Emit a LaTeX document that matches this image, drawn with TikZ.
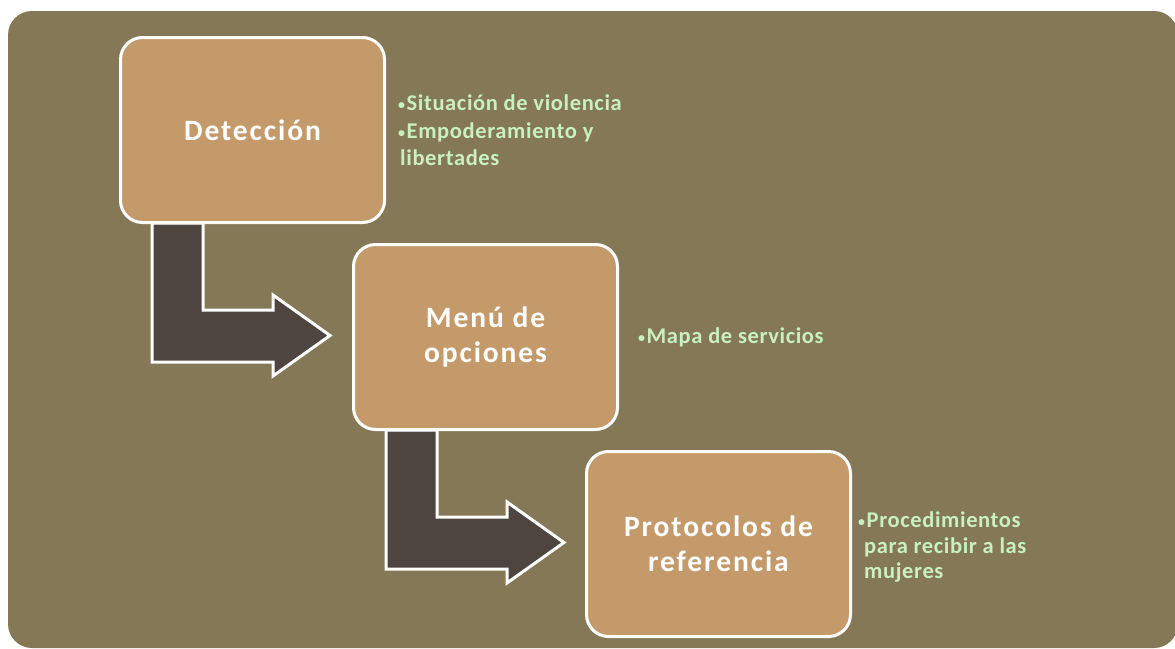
\documentclass[tikz,border=0pt]{standalone}
\usepackage{fontspec}
\setmainfont{Carlito}
\newfontfamily\titlefont[LetterSpace=6.5]{Carlito}
\newfontfamily\sidefont[LetterSpace=2.8]{Carlito}
\definecolor{bgolive}{HTML}{857856}
\definecolor{boxtan}{HTML}{C49A6B}
\definecolor{arrowdark}{HTML}{4F4540}
\definecolor{sidegreen}{HTML}{C8F0C0}
\newcommand\sbul{{\fontsize{14}{14}\selectfont\raisebox{1pt}{•}}\hspace{1.5pt}}
\begin{document}
\begin{tikzpicture}[x=1pt,y=-1pt,
  stage/.style={draw=white, line width=3pt, fill=boxtan, rounded corners=22pt,
    minimum width=264pt, minimum height=185pt, inner sep=0pt, outer sep=0pt,
    text=white, align=center, font=\titlefont\fontsize{29.5}{35}\selectfont\bfseries},
  bentarrow/.style={draw=white, line width=3pt, fill=arrowdark, line join=miter},
  side/.style={text=sidegreen, inner sep=0pt, anchor=base west,
    font=\sidefont\fontsize{22.5}{24}\selectfont\bfseries}]
\useasboundingbox (0,0) rectangle (1175,648);
\fill[white] (0,0) rectangle (1175,648);
\fill[bgolive, rounded corners=24pt] (8,11) rectangle (1178,648);
% bent arrows
\draw[bentarrow] (152,223) -- (203,223) -- (203,310) -- (273,310) -- (273,295)
  -- (330,335.5) -- (273,376) -- (273,362) -- (152,362) -- cycle;
\draw[bentarrow] (386,430) -- (437,430) -- (437,517) -- (507,517) -- (507,502)
  -- (564,542.5) -- (507,583) -- (507,569) -- (386,569) -- cycle;
% boxes
\node[stage] (det) at (252.5,130) {Detección};
\node[stage] (menu) at (485.5,337) {Menú de\\opciones};
\node[stage] (prot) at (718.5,544) {Protocolos de\\referencia};
% side texts
\node[side] (s1a) at (398,110) {\sbul Situación de violencia};
\node[side] (s1b) at (398,138) {\sbul Empoderamiento y};
\node[side] (s1c) at (400,165) {libertades};
\node[side] (s2a) at (638,343) {\sbul Mapa de servicios};
\node[side] (s3a) at (858,527) {\sbul Procedimientos};
\node[side] (s3b) at (864,553) {para recibir a las};
\node[side] (s3c) at (864,578) {mujeres};
\end{tikzpicture}
\end{document}
